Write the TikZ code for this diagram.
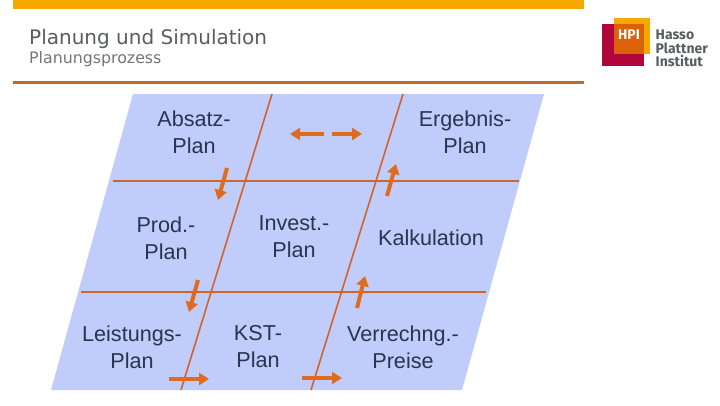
\documentclass[tikz,border=0pt]{standalone}
\usepackage{fontspec}
\setmainfont{Liberation Sans}
\newfontfamily\headfont{DejaVu Sans}
\newfontfamily\logofont{Fira Sans}
\usetikzlibrary{arrows.meta}
\definecolor{barorange}{HTML}{F6A800}
\definecolor{rulebrown}{HTML}{BC6A2E}
\definecolor{flowblue}{HTML}{C0CCFA}
\definecolor{lineorange}{HTML}{D2642A}
\definecolor{tiporange}{HTML}{DE6B1E}
\definecolor{labelnavy}{HTML}{2B3350}
\definecolor{headgray}{HTML}{5A5C60}
\definecolor{hpired}{HTML}{B1063A}
\definecolor{hpiorange}{HTML}{DD6108}
\begin{document}
\begin{tikzpicture}[x=1pt, y=-1pt,
    planlabel/.style={align=center, font=\fontsize{21.6}{27}\selectfont, text=labelnavy},
    gridline/.style={lineorange, line width=2pt},
    flow/.style={tiporange, line width=4pt, -{Triangle[length=10pt,width=12pt]}}]
  \useasboundingbox (0,0) rectangle (720,405);
  % header
  \fill[barorange] (13,0) rectangle (584,9);
  \fill[rulebrown] (13,81) rectangle (584,84);
  \node[anchor=base west, inner sep=0pt, text=headgray, font=\headfont\fontsize{20}{22}\selectfont] (title) at (29,44) {Planung und Simulation};
  \node[anchor=base west, inner sep=0pt, text=headgray!85, font=\headfont\fontsize{15.8}{17}\selectfont] (subtitle) at (29,63) {Planungsprozess};
  % logo
  \fill[hpired] (602,24) rectangle (644,66);
  \fill[barorange] (614,18) rectangle (650,54);
  \fill[hpiorange] (614,24) rectangle (644,54);
  \node[text=white, font=\logofont\bfseries\fontsize{14}{14}\selectfont, inner sep=0pt] (hpi) at (629,35) {HPI};
  \node[anchor=west, align=left, inner sep=0pt, text=headgray, font=\logofont\bfseries\fontsize{14}{13.5}\selectfont] (hpiname) at (655.5,48.5) {Hasso\\Plattner\\Institut};
  % plan area
  \fill[flowblue] (133,94) -- (544,94) -- (462,390) -- (51,390) -- cycle;
  \draw[gridline] (113,180.5) -- (519,180.5);
  \draw[gridline] (81,292) -- (486,292);
  \draw[gridline, line width=1.6pt] (272,94) -- (181,390);
  \draw[gridline, line width=1.6pt] (403,94) -- (311,390);
  \foreach \name/\x/\y/\lbl in {absatz/194/132/{Absatz-\\Plan}, ergebnis/465/132/{Ergebnis-\\Plan},
      prod/166/238/{Prod.-\\Plan}, invest/294/237/{Invest.-\\Plan}, kalk/431/238/{Kalkulation},
      leistung/132/347/{Leistungs-\\Plan}, kst/258/347/{KST-\\Plan}, verrechng/403/347/{Verrechng.-\\Preise}}{
    \node[planlabel] (\name) at (\x,\y) {\lbl};
  }
  % flows
  \foreach \xa/\ya/\xb/\yb in {324/134/290/134, 332/134/362/134, 227/168/218/200, 387/196/396/164,
      198/280/189/312, 357/308/365/276, 169/379/209/379, 302/378/342/378}{
    \draw[flow] (\xa,\ya) -- (\xb,\yb);
  }
\end{tikzpicture}
\end{document}
